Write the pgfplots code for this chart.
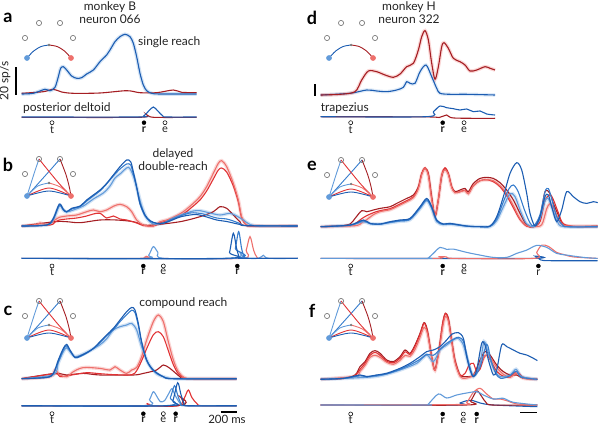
\documentclass[border=0pt]{standalone}
\usepackage{pgfplots}
\pgfplotsset{compat=1.18}
\usepackage{pgfplotstable}
\usepackage{fontspec}
\setmainfont{Lato}
\definecolor{DB}{RGB}{28,93,178}
\definecolor{MB}{RGB}{55,125,205}
\definecolor{LB}{RGB}{98,155,218}
\definecolor{DR}{RGB}{165,30,35}
\definecolor{RR}{RGB}{225,50,52}
\definecolor{LR}{RGB}{238,112,108}
\definecolor{GC}{RGB}{125,125,125}
\definecolor{TX}{RGB}{35,35,35}

% ---------- panel a ----------
\pgfplotstableread[row sep=\\]{x y\\ -364 0\\ -224 0.7\\ -84 4.7\\ -24 3.3\\ 36 6.7\\ 76 17.3\\ 104 25.7\\ 136 27.3\\ 176 24\\ 236 18\\ 296 15.7\\ 356 16.3\\ 416 20\\ 496 24\\ 576 32.3\\ 656 39\\ 696 44\\ 756 52.3\\ 816 57.3\\ 876 59.7\\ 936 57.3\\ 976 50.7\\ 1016 37.3\\ 1056 20.7\\ 1096 9\\ 1136 3.3\\ 1196 0.7\\ 1296 0\\ 1736 0\\}\tAblue
% ---------- panel d ----------
\pgfplotstableread[row sep=\\]{x y\\ -360 0\\ -128 0.7\\ 52 3.3\\ 132 15\\ 212 24\\ 312 23.3\\ 412 20\\ 512 17.7\\ 592 21\\ 672 28.3\\ 752 31.7\\ 812 45\\ 852 58.3\\ 892 64.3\\ 932 55\\ 972 31.7\\ 1012 15.7\\ 1052 28.3\\ 1092 48.3\\ 1120 52.3\\ 1172 46.7\\ 1232 36.7\\ 1312 33.3\\ 1372 30\\ 1432 24\\ 1512 25\\ 1612 28.3\\ 1672 26.7\\ 1732 25\\}\tDred
\pgfplotstableread[row sep=\\]{x y\\ -360 0\\ -8 1.7\\ 192 5\\ 312 4\\ 432 3.3\\ 552 5\\ 632 7.7\\ 672 13.3\\ 712 11.7\\ 772 11.7\\ 832 23.3\\ 904 30\\ 972 18.3\\ 1032 6.7\\ 1072 1.7\\ 1192 0.7\\ 1392 0.7\\ 1732 0\\}\tDblue
% ---------- panel b ----------
\pgfplotstableread[row sep=\\]{x y\\ -364 0\\ -64 1\\ 16 6\\ 88 20\\ 136 16\\ 176 14\\ 256 16\\ 376 20\\ 496 27\\ 616 33\\ 696 40\\ 756 48\\ 816 52\\ 916 58.7\\ 976 50\\ 1024 36\\ 1076 20\\ 1136 8\\ 1216 2\\ 1336 3\\ 1456 8\\ 1576 12\\ 1696 15\\ 1776 15.3\\ 1896 13\\ 2016 11\\ 2136 12.7\\ 2216 10\\ 2296 6\\ 2376 1.5\\ 2496 0\\ 2948 0\\}\tBLB
\pgfplotstableread[row sep=\\]{x y\\ -364 0\\ -184 1.5\\ -144 3\\ -84 1.5\\ -24 2.7\\ 36 6\\ 88 8.7\\ 176 10\\ 296 11\\ 416 14.3\\ 496 16\\ 576 14.3\\ 656 16\\ 736 19.7\\ 816 21.7\\ 896 19.3\\ 956 14.3\\ 1016 6\\ 1096 1\\ 1216 0\\ 1296 4.3\\ 1376 6\\ 1456 8.7\\ 1576 14.3\\ 1696 22.7\\ 1776 29.3\\ 1856 39.3\\ 1936 52.7\\ 1996 62.7\\ 2036 65.3\\ 2096 59.3\\ 2176 42.7\\ 2236 26\\ 2276 9.3\\ 2336 1\\ 2416 0\\ 2948 0\\}\tBLR
% ---------- panel e ----------
\pgfplotstableread[row sep=\\]{x y\\ -360 0\\ 52 1\\ 132 4\\ 192 7\\ 272 12\\ 352 15\\ 472 17\\ 552 20\\ 672 25\\ 752 29\\ 812 38\\ 852 52\\ 892 58\\ 932 51\\ 972 27\\ 1012 11\\ 1052 27\\ 1092 51\\ 1132 57\\ 1172 52\\ 1212 39\\ 1252 34\\ 1312 35\\ 1372 36\\ 1412 33\\ 1472 41\\ 1552 46\\ 1632 47\\ 1712 46\\ 1792 41\\ 1872 33\\ 1952 21\\ 2032 8\\ 2112 1\\ 2192 0\\ 2292 2\\ 2352 18\\ 2392 23\\ 2440 18\\ 2492 8\\ 2552 1.5\\ 2712 0.5\\ 2964 0.5\\}\tELR
\pgfplotstableread[row sep=\\]{x y\\ -360 0\\ -8 1.5\\ 152 5\\ 232 3\\ 352 2.5\\ 472 4\\ 592 5.5\\ 712 7\\ 832 18\\ 912 26\\ 972 18\\ 1032 5\\ 1112 2\\ 1192 2.5\\ 1392 0.5\\ 1552 0\\ 1672 0\\ 1752 6\\ 1832 20\\ 1912 33\\ 1972 30\\ 2040 15\\ 2110 3\\ 2200 0\\ 2272 8\\ 2332 26\\ 2372 28\\ 2420 18\\ 2480 5\\ 2560 0\\ 2964 0\\}\tELB
% ---------- panel c ----------
\pgfplotstableread[row sep=\\]{x y\\ -364 0\\ 16 4\\ 76 16\\ 136 27\\ 176 31\\ 216 27\\ 276 22\\ 356 24\\ 456 28\\ 576 34\\ 656 40\\ 736 48.7\\ 816 52\\ 896 53.7\\ 956 55.3\\ 1016 48.7\\ 1076 32\\ 1156 15.3\\ 1256 5\\ 1376 1\\ 1496 0\\ 2216 0\\}\tCLB
\pgfplotstableread[row sep=\\]{x y\\ -364 0\\ -24 2\\ 36 8.7\\ 96 3.7\\ 176 2\\ 256 7\\ 336 10.3\\ 416 11.3\\ 576 10.3\\ 696 8.7\\ 756 12\\ 816 8.7\\ 896 5.3\\ 956 8.7\\ 1016 11.3\\ 1076 22\\ 1136 38.7\\ 1216 57\\ 1276 63.7\\ 1336 57\\ 1396 37\\ 1456 18.7\\ 1516 7\\ 1596 0.7\\ 1696 0\\ 2216 0\\}\tCLR
% ---------- panel f ----------
\pgfplotstableread[row sep=\\]{x y\\ -360 0\\ 52 3\\ 112 8\\ 172 14\\ 232 22\\ 292 24\\ 352 22\\ 432 17\\ 512 15\\ 592 19\\ 652 24\\ 712 23\\ 772 30\\ 832 42\\ 880 52\\ 920 46\\ 972 22\\ 1012 9\\ 1064 30\\ 1104 52\\ 1136 63\\ 1172 58\\ 1212 38\\ 1252 17\\ 1312 3\\ 1372 1\\ 1472 4\\ 1552 14\\ 1612 24\\ 1672 22\\ 1752 12\\ 1832 5\\ 1912 2\\ 1992 6\\ 2072 1\\ 2240 0\\}\tFLR
\pgfplotstableread[row sep=\\]{x y\\ -360 0\\ 192 2\\ 392 4.3\\ 592 9.3\\ 792 16\\ 912 24.3\\ 992 17.7\\ 1072 29.3\\ 1152 34.3\\ 1232 39.3\\ 1292 41\\ 1352 34.3\\ 1412 16\\ 1472 2.7\\ 1552 16\\ 1600 37.7\\ 1652 26\\ 1712 11\\ 1792 2.7\\ 1912 4.3\\ 1984 10\\ 2052 2.7\\ 2240 0\\}\tFLB

\pgfplotsset{
  base/.style={hide axis, clip=false, x=0.083333pt, y=1pt, xmin=-400, xmax=3000, ymin=-60, ymax=100, anchor=south west},
  tr/.style={smooth, line width=1.1pt, no markers},
  bd/.style={smooth, line width=3.6pt, opacity=0.28, no markers},
  ins/.style={smooth, line width=0.9pt, no markers},
  emg/.style={smooth, line width=1.1pt, no markers, y filter/.expression={y-#1}},
  omk/.style={only marks, mark=o, mark size=2pt, black, mark options={line width=0.55pt}},
  fmk/.style={only marks, mark=*, mark size=2pt, black},
}
\tikzset{
  lab/.style={font=\fontsize{12}{13}\selectfont, text=TX, inner sep=0pt},
  plab/.style={font=\fontsize{18}{19}\selectfont\bfseries, inner sep=0pt},
  mlab/.style={font=\fontsize{11}{12}\selectfont, text=TX, inner sep=0pt},
}
% inset for single reach (a, d): #1 x shift, #2 y shift
\newcommand\insetS[2]{%
  \addplot[ins, DB, x filter/.expression={x+#1}, y filter/.expression={y+#2}] coordinates {(-300,0) (-220,7) (-130,11.5) (-36,13)};
  \addplot[ins, DR, x filter/.expression={x+#1}, y filter/.expression={y+#2}] coordinates {(-36,13) (60,11.5) (150,7) (228,0)};
  \addplot[only marks, mark=o, mark size=2.6pt, GC, mark options={line width=0.7pt}, x filter/.expression={x+#1}, y filter/.expression={y+#2}] coordinates {(-324,20) (-156,35) (96,35) (252,20)};
  \addplot[only marks, mark=*, mark size=2.6pt, LB, x filter/.expression={x+#1}, y filter/.expression={y+#2}] coordinates {(-300,0)};
  \addplot[only marks, mark=*, mark size=2.6pt, LR, x filter/.expression={x+#1}, y filter/.expression={y+#2}] coordinates {(228,0)};
  \addplot[only marks, mark=*, mark size=1pt, GC, x filter/.expression={x+#1}, y filter/.expression={y+#2}] coordinates {(-36,13)};
}
% inset for double reaches (b, c, e, f)
\newcommand\insetD[2]{%
  \addplot[ins, LB, x filter/.expression={x+#1}, y filter/.expression={y+#2}] coordinates {(-300,0) (-255,12) (-205,25) (-156,37)};
  \addplot[ins, MB, x filter/.expression={x+#1}, y filter/.expression={y+#2}] coordinates {(-300,0) (-160,13) (-20,26) (96,37)};
  \addplot[ins, RR, x filter/.expression={x+#1}, y filter/.expression={y+#2}] coordinates {(-156,37) (-40,25) (90,12) (228,0)};
  \addplot[ins, DR, x filter/.expression={x+#1}, y filter/.expression={y+#2}] coordinates {(96,37) (165,22) (205,10) (228,0)};
  \addplot[ins, LB, x filter/.expression={x+#1}, y filter/.expression={y+#2}] coordinates {(-300,0) (-170,10) (-36,13)};
  \addplot[ins, LR, x filter/.expression={x+#1}, y filter/.expression={y+#2}] coordinates {(-36,13) (100,9) (228,0)};
  \addplot[ins, RR, x filter/.expression={x+#1}, y filter/.expression={y+#2}] coordinates {(-300,0) (-36,8) (228,0)};
  \addplot[ins, DB, x filter/.expression={x+#1}, y filter/.expression={y+#2}] coordinates {(-300,0) (-36,5) (228,0)};
  \addplot[only marks, mark=o, mark size=2.6pt, GC, mark options={line width=0.7pt}, x filter/.expression={x+#1}, y filter/.expression={y+#2}] coordinates {(-324,22) (-156,37) (96,37) (252,22)};
  \addplot[only marks, mark=*, mark size=2.6pt, LB, x filter/.expression={x+#1}, y filter/.expression={y+#2}] coordinates {(-300,0)};
  \addplot[only marks, mark=*, mark size=2.6pt, LR, x filter/.expression={x+#1}, y filter/.expression={y+#2}] coordinates {(228,0)};
  \addplot[only marks, mark=*, mark size=1pt, GC, x filter/.expression={x+#1}, y filter/.expression={y+#2}] coordinates {(-36,13)};
}

\begin{document}
\begin{tikzpicture}
\useasboundingbox (0,0) rectangle (600pt,426pt);

% ================= a =================
\begin{axis}[base, at={(18.67pt,272pt)}]
\insetS{0}{36}
\addplot[bd, LB] table {\tAblue};
\addplot[tr, DR] coordinates {(-364,0.7) (-104,2.3) (16,4.7) (116,2) (256,0.7) (576,1) (896,3.3) (1056,1.3) (1256,1.3) (1456,4) (1556,1.7) (1736,1.3)};
\addplot[tr, DB] table {\tAblue};
\addplot[emg=23, DR] coordinates {(-364,-0.3) (1040,-0.3) (1136,2.3) (1220,-0.3) (1736,-0.3)};
\addplot[emg=23, DB] coordinates {(-364,0) (1016,0) (1100,1) (1160,6) (1216,10) (1270,6) (1330,1) (1376,0) (1736,0)};
\addplot[omk] coordinates {(0,-28.7) (1356,-28.7)};
\addplot[fmk] coordinates {(1104,-28.7)};
\node[mlab] at (0,-35.5) {t};
\node[mlab] at (1104,-35.5) {\textbf{r}};
\node[mlab] at (1356,-35.5) {e};
\addplot[black, line width=1.6pt] coordinates {(-432,-1) (-432,27)};
\node[lab, rotate=90] at (-564,13) {20 sp/s};
\node[plab] at (-528,76) {a};
\node[lab] at (696,87) {monkey B};
\node[lab] at (696,75) {neuron 066};
\node[lab, anchor=west] at (1032,52) {single reach};
\node[lab, anchor=west] at (-348,-14.5) {posterior deltoid};
\end{axis}

% ================= d =================
\begin{axis}[base, at={(317.37pt,271pt)}]
\insetS{40}{37}
\addplot[bd, LB, opacity=0.2] table {\tDblue};
\addplot[bd, LR] table {\tDred};
\addplot[tr, DB] table {\tDblue};
\addplot[tr, DR] table {\tDred};
\addplot[emg=21.7, DR] coordinates {(-360,0) (900,-0.2) (1060,-0.8) (1152,1.7) (1240,-1.3) (1732,-1.6)};
\addplot[emg=21.7, DB] coordinates {(-360,0) (904,0) (992,5) (1072,10.7) (1152,9) (1232,8) (1312,6.7) (1392,7.7) (1472,5) (1552,5.7) (1632,2.7) (1732,1.7)};
\addplot[omk] coordinates {(0,-27.7) (1360,-27.7)};
\addplot[fmk] coordinates {(1104,-27.7)};
\node[mlab] at (0,-34.5) {t};
\node[mlab] at (1104,-34.5) {\textbf{r}};
\node[mlab] at (1360,-34.5) {e};
\addplot[black, line width=1.6pt] coordinates {(-428,-1) (-428,11)};
\node[plab] at (-464,77) {d};
\node[lab] at (700,88) {monkey H};
\node[lab] at (700,76) {neuron 322};
\node[lab, anchor=west] at (-360,-13) {trapezius};
\end{axis}

% ================= b =================
\begin{axis}[base, at={(18.67pt,140pt)}]
\insetD{0}{30}
\addplot[bd, LB] table {\tBLB};
\addplot[bd, LR] table {\tBLR};
\addplot[tr, DR] coordinates {(-364,0) (36,4.3) (176,4.3) (336,3.3) (576,6) (776,6) (976,4.3) (1096,1) (1216,1) (1536,4.3) (1776,9.3) (1936,14.3) (2016,19.3) (2096,17.7) (2176,11) (2256,4.3) (2336,0.3) (2948,0)};
\addplot[tr, RR] coordinates {(-364,0) (-24,1) (36,4) (88,6) (176,7) (296,8) (416,10) (496,12) (576,12.7) (656,8) (736,10) (816,7) (896,6) (1016,3) (1096,0.5) (1216,0) (1296,3) (1376,5) (1456,7) (1576,12) (1696,20) (1776,26) (1856,35) (1936,47) (1996,56) (2036,58) (2096,54) (2176,40) (2236,24) (2276,8) (2336,1) (2416,0) (2948,0)};
\addplot[tr, LR] table {\tBLR};
\addplot[tr, LB] table {\tBLB};
\addplot[tr, MB] coordinates {(-364,0) (-64,1) (16,7) (88,21) (136,16) (176,14) (236,17) (336,19.5) (416,25) (496,30) (576,35) (656,42) (736,50) (816,57) (896,62) (944,61) (976,52) (1016,38) (1056,22) (1116,10) (1176,5) (1256,2.5) (1336,3) (1416,6) (1536,10) (1656,13) (1736,13) (1816,12) (1896,10) (1976,8) (2096,7) (2176,5) (2256,2.5) (2336,0.5) (2948,0)};
\addplot[tr, DB] coordinates {(-364,0) (-64,1) (16,7.7) (88,22) (136,16.7) (176,14.3) (236,17.7) (336,20) (416,26) (496,31) (576,36) (656,42.7) (736,51) (816,59.3) (896,66) (944,64.3) (976,54.3) (1016,39.3) (1056,22.7) (1116,11) (1176,5.3) (1256,2.7) (1336,2.7) (1416,5) (1536,9) (1656,11) (1736,11.5) (1816,10) (1896,8) (1976,6) (2096,4.5) (2176,3) (2256,1.5) (2336,0.3) (2948,0)};
\addplot[emg=32.3, LR] coordinates {(-364,0) (1060,0) (1130,2) (1200,0) (2280,0) (2330,8) (2376,21.7) (2420,8) (2460,1) (2520,0) (2948,0)};
\addplot[emg=32.3, LB] coordinates {(-364,0) (1100,0) (1160,3) (1216,11.7) (1270,6) (1340,0) (2200,0) (2256,6) (2310,0.5) (2480,0) (2536,3) (2600,0) (2948,0)};
\addplot[emg=32.3, MB] coordinates {(-364,0) (2150,0) (2200,10) (2240,26.7) (2275,10) (2310,1) (2360,0) (2948,0)};
\addplot[emg=32.3, DB] coordinates {(-364,0) (2080,0) (2130,6) (2176,25) (2215,10) (2250,1) (2300,0) (2948,0)};
\addplot[omk] coordinates {(0,-40) (1336,-40)};
\addplot[fmk] coordinates {(1096,-40) (2224,-40)};
\node[mlab] at (0,-46) {t};
\node[mlab] at (1096,-46) {\textbf{r}};
\node[mlab] at (1336,-46) {e};
\node[mlab] at (2224,-46) {\textbf{r}};
\node[plab] at (-528,61) {b};
\node[lab] at (1452,72) {delayed};
\node[lab] at (1452,59.5) {double-reach};
\end{axis}

% ================= e =================
\begin{axis}[base, at={(317.37pt,139.3pt)}]
\insetD{40}{29.7}
\addplot[bd, LR] table {\tELR};
\addplot[bd, LB] table {\tELB};
\addplot[tr, DR] coordinates {(-360,0) (-128,0.7) (-8,2.7) (52,8.3) (132,16) (192,15) (272,16.7) (352,18.3) (472,20) (552,23.3) (672,28.3) (752,31.7) (812,40) (852,53.3) (892,58.3) (932,53.3) (972,30) (1012,10) (1052,26.7) (1092,50) (1132,58.3) (1172,53.3) (1212,40) (1252,35) (1312,36.7) (1372,38.3) (1412,35) (1472,43.3) (1552,48.3) (1632,49.3) (1712,48.3) (1792,44) (1872,36.7) (1952,26.7) (2032,13.3) (2112,1.7) (2192,0) (2272,10) (2332,35) (2392,33.3) (2432,23.3) (2492,11.7) (2552,1.7) (2712,0) (2964,0.7)};
\addplot[tr, RR] coordinates {(-360,0) (-8,1.5) (52,3) (132,8) (192,11) (272,14) (352,16) (472,18) (552,21) (672,26) (752,30) (812,39) (852,53) (892,59) (932,52) (972,28) (1012,12) (1052,28) (1092,52) (1132,59) (1172,53) (1212,40) (1252,34) (1312,35) (1372,36.5) (1412,33) (1472,41) (1552,46) (1632,47) (1712,45) (1792,40) (1872,31) (1952,19) (2032,7) (2112,0.5) (2192,0) (2272,5) (2332,26) (2392,32) (2432,27) (2492,14) (2552,3) (2712,0) (2964,0)};
\addplot[tr, LR] table {\tELR};
\addplot[tr, LB] table {\tELB};
\addplot[tr, MB] coordinates {(-360,0) (-8,1.5) (152,6) (232,3) (352,2.5) (472,4.5) (592,6) (712,7.5) (832,19) (912,27) (972,19) (1032,6) (1112,2.5) (1192,3) (1392,0.5) (1552,0) (1672,0.5) (1752,8) (1832,25) (1900,38) (1952,41.7) (2010,35) (2080,18) (2150,4) (2200,1) (2272,12) (2332,35) (2372,38) (2412,28) (2472,10) (2540,2) (2600,0) (2964,0)};
\addplot[tr, DB] coordinates {(-360,0) (-8,1.7) (152,6.7) (232,3.3) (352,2.7) (472,5) (592,6.7) (712,8.3) (832,20) (912,28.3) (972,20) (1032,6.7) (1112,2.7) (1192,3.3) (1392,0.7) (1552,0) (1672,0.7) (1752,10) (1832,30) (1912,53.3) (1992,64) (2052,56.7) (2112,33.3) (2152,13.3) (2212,0.7) (2272,10) (2332,30) (2372,31.7) (2412,20) (2472,5) (2532,16.7) (2592,35) (2672,30) (2752,25) (2832,23.3) (2912,25) (2964,24)};
\addplot[emg=31.7, DB] coordinates {(-360,0) (2150,0) (2212,2.3) (2280,-1.5) (2400,-2.3) (2964,-2.3)};
\addplot[emg=31.7, LR] coordinates {(-360,0) (1000,0) (1072,1.7) (1152,1.5) (1250,0) (2200,0) (2232,6) (2292,13.3) (2372,12) (2472,6) (2552,4) (2672,1.5) (2964,0)};
\addplot[emg=31.7, LB] coordinates {(-360,0) (900,0) (932,0.5) (992,5) (1072,11) (1152,9) (1232,9.3) (1392,6) (1552,3.3) (1712,1) (1872,1) (1992,5) (2112,8.3) (2232,13) (2352,11) (2472,5) (2592,3.3) (2792,1) (2964,0)};
\addplot[omk] coordinates {(0,-39.3) (1360,-39.3)};
\addplot[fmk] coordinates {(1104,-39.3) (2252,-39.3)};
\node[mlab] at (0,-45.5) {t};
\node[mlab] at (1104,-45.5) {\textbf{r}};
\node[mlab] at (1360,-45.5) {e};
\node[mlab] at (2252,-45.5) {r};
\node[plab] at (-464,60.7) {e};
\end{axis}

% ================= c =================
\begin{axis}[base, at={(18.67pt,-12.7pt)}]
\insetD{0}{40.7}
\addplot[bd, LB] table {\tCLB};
\addplot[bd, LR] table {\tCLR};
\addplot[tr, DR] coordinates {(-364,0) (36,5.3) (176,3.7) (376,5.3) (576,3.7) (976,3.7) (1096,5.3) (1256,8.7) (1336,13.7) (1416,10.3) (1536,2) (1616,0) (2216,0)};
\addplot[tr, RR] coordinates {(-364,0) (36,5) (96,2) (256,4) (416,6) (576,5) (756,4) (956,4) (1016,8) (1076,18) (1136,30) (1216,44) (1276,47) (1336,42) (1396,28) (1456,14) (1516,5) (1596,0.5) (1700,0) (2216,0)};
\addplot[tr, LR] table {\tCLR};
\addplot[tr, LB] table {\tCLB};
\addplot[tr, MB] coordinates {(-364,0) (-64,1.2) (16,5) (76,17) (136,29) (176,33) (216,28) (276,21) (336,22) (416,25.5) (496,30) (576,36) (656,43) (736,49) (816,57) (896,64) (956,68.5) (996,66) (1036,53) (1076,36) (1136,18) (1216,8) (1336,2) (1456,0) (2216,0)};
\addplot[tr, DB] coordinates {(-364,0) (-64,1.3) (16,5.3) (76,18.7) (136,30.3) (176,34.3) (216,28.7) (276,21.3) (336,22.7) (416,26) (496,30.3) (576,37) (656,43.7) (736,50.3) (816,58.7) (896,67) (956,71.3) (996,68.7) (1036,55.3) (1076,37) (1136,18.7) (1216,8.7) (1336,2) (1456,0) (2216,0)};
\addplot[emg=27, RR] coordinates {(-364,0) (1060,0) (1136,2.3) (1200,0) (1520,0) (1590,8) (1636,15.7) (1680,8) (1740,2) (1800,0) (2216,0)};
\addplot[emg=27, DR] coordinates {(-364,0) (1480,0) (1536,9) (1580,3) (1620,0) (2216,0)};
\addplot[emg=27, LB] coordinates {(-364,0) (1100,0) (1170,6) (1216,14) (1260,9) (1300,4) (1350,5) (1400,12) (1440,17) (1480,10) (1540,2) (1600,0) (2216,0)};
\addplot[emg=27, MB] coordinates {(-364,0) (1360,0) (1420,8) (1470,20) (1510,10) (1550,2) (1600,0) (2216,0)};
\addplot[emg=27, DB] coordinates {(-364,0) (1390,0) (1450,5) (1508,23) (1545,12) (1585,2) (1630,0) (2216,0)};
\addplot[omk] coordinates {(0,-35) (1336,-35)};
\addplot[fmk] coordinates {(1096,-35) (1484,-35)};
\node[mlab] at (0,-41.3) {t};
\node[mlab] at (1096,-41.3) {\textbf{r}};
\node[mlab] at (1336,-41.3) {e};
\node[mlab] at (1484,-41.3) {\textbf{r}};
\addplot[black, line width=1.6pt] coordinates {(2024,-33) (2224,-33)};
\node[lab, font=\fontsize{11.5}{12}\selectfont] at (2100,-40.2) {200 ms};
\node[plab] at (-528,67.7) {c};
\node[lab] at (1576,75.5) {compound reach};
\end{axis}

% ================= f =================
\begin{axis}[base, at={(317.37pt,-13.3pt)}]
\insetD{40}{41.3}
\addplot[bd, LR] table {\tFLR};
\addplot[bd, LB] table {\tFLB};
\addplot[tr, DR] coordinates {(-360,0) (-88,1) (52,4.3) (112,12.7) (172,17.7) (232,26) (292,28.7) (352,26) (432,19.3) (512,17.7) (592,22.7) (652,29.3) (712,26) (772,34.3) (832,46) (880,56.7) (920,49.3) (972,22.7) (1012,10) (1064,32.7) (1104,56) (1136,66) (1172,61) (1212,39.3) (1252,19.3) (1312,4.3) (1372,2.7) (1472,4) (1552,19.3) (1612,27.7) (1672,24.3) (1752,14.3) (1832,7.7) (1912,4.3) (1992,4.3) (2072,1) (2240,0)};
\addplot[tr, RR] coordinates {(-360,0) (-88,0.8) (52,3.5) (112,10) (172,16) (232,24) (292,27) (352,24) (432,18) (512,16.5) (592,21) (652,27.5) (712,25) (772,33) (832,45) (880,56) (920,48) (972,22) (1012,9) (1064,32) (1104,56) (1136,66) (1172,60) (1212,38) (1252,18) (1312,4) (1372,6) (1420,14) (1472,16) (1510,8) (1552,10) (1600,22) (1640,24) (1690,17) (1752,8) (1832,3) (1912,2) (1992,8) (2072,2) (2240,0)};
\addplot[tr, LR] table {\tFLR};
\addplot[tr, LB] table {\tFLB};
\addplot[tr, MB] coordinates {(-360,0) (-88,0.8) (112,3.5) (192,2.5) (312,4) (432,5.5) (592,10) (712,14.5) (832,20) (912,25) (992,24) (1072,30) (1152,36) (1232,40) (1292,42) (1352,38) (1412,18) (1472,3) (1552,12) (1632,35) (1680,20) (1740,6) (1800,1) (1900,3) (1984,8) (2050,2) (2240,0)};
\addplot[tr, DB] coordinates {(-360,0) (-88,1) (112,4.3) (192,2.7) (312,4.3) (432,6) (592,11) (712,16) (832,22.7) (912,27.7) (992,29.3) (1072,32.7) (1152,39.3) (1212,45) (1292,46.7) (1352,41) (1392,22.7) (1432,9.3) (1472,2.7) (1512,9.3) (1572,36) (1612,34.3) (1652,19.3) (1712,4.3) (1752,9.3) (1812,34.3) (1872,32.7) (1952,29.3) (2032,26) (2112,24.3) (2192,21) (2240,18.7)};
\addplot[emg=25.7, DB] coordinates {(-360,0) (1250,0) (1312,2) (1392,4.3) (1472,4.3) (1552,2) (1712,0) (2240,-1.7)};
\addplot[emg=25.7, DR] coordinates {(-360,0) (1380,0) (1440,4) (1512,14) (1560,10) (1620,3) (1700,0) (2240,0)};
\addplot[emg=25.7, LR] coordinates {(-360,0) (1300,0.5) (1392,2.7) (1472,12.7) (1552,16.7) (1632,11) (1712,6) (1792,6) (1872,4.3) (2000,1) (2240,0)};
\addplot[emg=25.7, LB] coordinates {(-360,0) (900,0) (932,1) (1052,11) (1152,7) (1272,10) (1392,12) (1512,13.3) (1592,10) (1712,6) (1832,6.7) (1952,2.7) (2240,0)};
\addplot[omk] coordinates {(0,-34.7) (1352,-34.7)};
\addplot[fmk] coordinates {(1104,-34.7) (1512,-34.7)};
\node[mlab] at (0,-41) {t};
\node[mlab] at (1104,-41) {\textbf{r}};
\node[mlab] at (1352,-41) {e};
\node[mlab] at (1512,-41) {\textbf{r}};
\addplot[black, line width=1.6pt] coordinates {(2036,-33) (2236,-33)};
\node[plab] at (-464,68.3) {f};
\end{axis}
\end{tikzpicture}
\end{document}
